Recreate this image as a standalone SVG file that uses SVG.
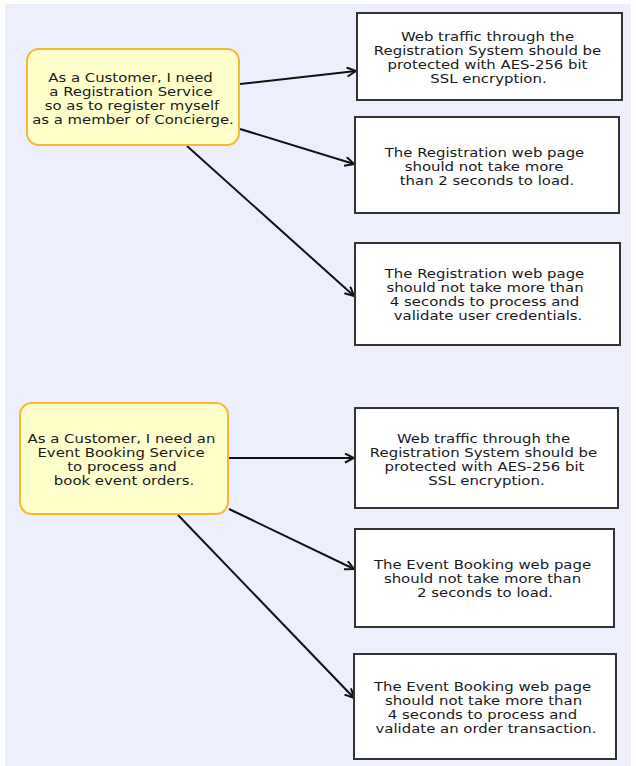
<svg xmlns="http://www.w3.org/2000/svg" width="636" height="766" viewBox="0 0 636 766">
<style>
.story{fill:#ffffcc;stroke:#f7b733;stroke-width:2}
.req{fill:#ffffff;stroke:#333333;stroke-width:2}
text{font-family:"DejaVu Sans","Liberation Sans",sans-serif;font-size:13px;fill:#1a1a1a;text-anchor:middle}
.edge{stroke:#111111;stroke-width:2;fill:none}
</style>
<defs>
<marker id="arr" markerWidth="12" markerHeight="12" refX="10" refY="5" orient="auto" markerUnits="userSpaceOnUse" viewBox="0 0 12 12">
<path d="M1,0.5 L10,5 L1,9.5" fill="none" stroke="#111111" stroke-width="2"/>
</marker>
</defs>
<rect x="5" y="4" width="626" height="762" fill="#edf0fc"/>
<g id="connectors">
<line class="edge" x1="240" y1="84" x2="356" y2="71" marker-end="url(#arr)"/>
<line class="edge" x1="240" y1="129" x2="354" y2="164" marker-end="url(#arr)"/>
<line class="edge" x1="187" y1="146" x2="354" y2="296" marker-end="url(#arr)"/>
<line class="edge" x1="229" y1="458" x2="354" y2="458" marker-end="url(#arr)"/>
<line class="edge" x1="229" y1="509" x2="354" y2="569" marker-end="url(#arr)"/>
<line class="edge" x1="178" y1="515" x2="354" y2="698" marker-end="url(#arr)"/>
</g>
<g id="story1">
<rect class="story" x="27" y="49" width="212" height="96" rx="12"/>
<text transform="translate(130.5 82) scale(1.145 1)">As a Customer, I need</text>
<text transform="translate(131 96) scale(1.145 1)">a Registration Service</text>
<text transform="translate(132 110) scale(1.145 1)">so as to register myself</text>
<text transform="translate(133 124) scale(1.145 1)">as a member of Concierge.</text>
</g>
<g id="req1">
<rect class="req" x="357" y="13" width="265" height="87"/>
<text transform="translate(487.5 41) scale(1.145 1)">Web traffic through the</text>
<text transform="translate(487.5 55) scale(1.145 1)">Registration System should be</text>
<text transform="translate(487.5 69) scale(1.145 1)">protected with AES-256 bit</text>
<text transform="translate(488.5 83) scale(1.145 1)">SSL encryption.</text>
</g>
<g id="req2">
<rect class="req" x="355" y="117" width="264" height="96"/>
<text transform="translate(484.5 157) scale(1.145 1)">The Registration web page</text>
<text transform="translate(484 171) scale(1.145 1)">should not take more</text>
<text transform="translate(487 185) scale(1.145 1)">than 2 seconds to load.</text>
</g>
<g id="req3">
<rect class="req" x="355" y="243" width="265" height="102"/>
<text transform="translate(484.5 278) scale(1.145 1)">The Registration web page</text>
<text transform="translate(485 292) scale(1.145 1)">should not take more than</text>
<text transform="translate(484.5 306) scale(1.145 1)">4 seconds to process and</text>
<text transform="translate(488 320) scale(1.145 1)">validate user credentials.</text>
</g>
<g id="story2">
<rect class="story" x="20" y="403" width="208" height="111" rx="12"/>
<text transform="translate(121.5 443) scale(1.145 1)">As a Customer, I need an</text>
<text transform="translate(121 457) scale(1.145 1)">Event Booking Service</text>
<text transform="translate(122 471) scale(1.145 1)">to process and</text>
<text transform="translate(124 485) scale(1.145 1)">book event orders.</text>
</g>
<g id="req4">
<rect class="req" x="355" y="408" width="263" height="100"/>
<text transform="translate(483.5 443) scale(1.145 1)">Web traffic through the</text>
<text transform="translate(483.5 457) scale(1.145 1)">Registration System should be</text>
<text transform="translate(484.5 471) scale(1.145 1)">protected with AES-256 bit</text>
<text transform="translate(486.5 485) scale(1.145 1)">SSL encryption.</text>
</g>
<g id="req5">
<rect class="req" x="355" y="529" width="259" height="98"/>
<text transform="translate(482.5 569) scale(1.145 1)">The Event Booking web page</text>
<text transform="translate(482.5 583) scale(1.145 1)">should not take more than</text>
<text transform="translate(485 597) scale(1.145 1)">2 seconds to load.</text>
</g>
<g id="req6">
<rect class="req" x="354" y="654" width="262" height="105"/>
<text transform="translate(482.5 691) scale(1.145 1)">The Event Booking web page</text>
<text transform="translate(483.5 705) scale(1.145 1)">should not take more than</text>
<text transform="translate(482.5 719) scale(1.145 1)">4 seconds to process and</text>
<text transform="translate(486 733) scale(1.145 1)">validate an order transaction.</text>
</g>
</svg>
